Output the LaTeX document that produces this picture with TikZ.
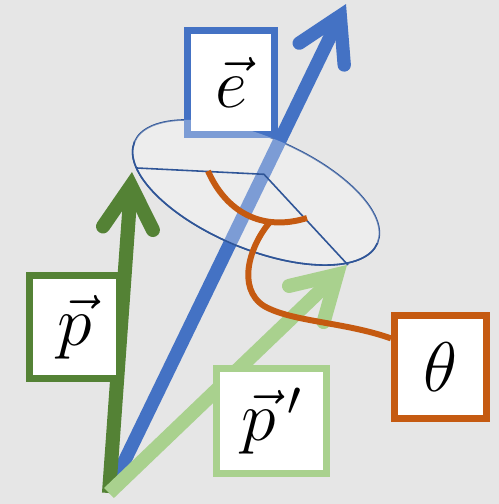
\RequirePackage{fix-cm}
\documentclass[tikz,border=0pt]{standalone}
\usetikzlibrary{arrows.meta}
\definecolor{Fond}{RGB}{230,230,230}
\definecolor{Bleu}{RGB}{68,114,196}
\definecolor{BleuFonce}{RGB}{47,85,151}
\definecolor{Vert}{RGB}{84,130,53}
\definecolor{VertClair}{RGB}{169,209,142}
\definecolor{Orange}{RGB}{197,90,17}
\tikzset{boite/.style={rectangle, draw, fill=white, line width=4pt,
  inner sep=0pt, font=\fontsize{40}{44}\selectfont}}
\tikzset{fleche/.style={-{Straight Barb[length=0.85cm, width=1cm,
  line cap=round, line join=miter]}, line width=7.6pt}}
\tikzset{trait/.style={draw=BleuFonce, line width=0.9pt}}
\tikzset{lien/.style={draw=Orange, line width=3.4pt}}

\begin{document}
\begin{tikzpicture}[x=0.02cm, y=-0.02cm]
\fill[Fond] (0,0) rectangle (499,504);
\useasboundingbox (0,0) rectangle (499,504);
\coordinate (orig) at (109,493);
\coordinate (centre) at (256,192.5);
\coordinate (axe) at (264,174.3);
\coordinate (bordp) at (137,168);
\coordinate (bordpp) at (348,265);
\coordinate (etip) at (346,4);
\coordinate (ptip) at (132,172);
\coordinate (pptip) at (347,265);
\coordinate (arcg) at (208,171);
\coordinate (arcd) at (307,218);
\coordinate (arcbas) at (270,222);
% cone autour de e
\draw[trait, rotate around={-22.6:(centre)}] (centre) ellipse [x radius=131.6, y radius=56.4];
\draw[fleche, Bleu] (orig) -- (etip);
\node[boite, draw=Bleu, minimum width=1.74cm, minimum height=2.08cm] (e) at (231,82.8) {$\vec{e}$};
\fill[white, opacity=0.3, rotate around={-22.6:(centre)}] (centre) ellipse [x radius=131.6, y radius=56.4];
\draw[trait, rotate around={-22.6:(centre)}] (387.6,192.5) arc [start angle=0, end angle=180, x radius=131.6, y radius=56.4];
\draw[trait] (bordp) -- (axe) -- (bordpp);
% impulsions
\draw[fleche, Vert, line width=8pt] (orig) -- (ptip);
\draw[fleche, VertClair, line width=8pt] (orig) -- (pptip);
% angle
\draw[lien] (arcg) .. controls (226,212) and (262,232) .. (arcd);
\node[boite, draw=Orange, minimum width=1.84cm, minimum height=2.06cm] (theta) at (440.5,367) {$\theta$};
\draw[lien] (arcbas) .. controls (250,245) and (236,288) .. (264,306) .. controls (292,322) and (345,322) .. (theta.150);
\node[boite, draw=Vert, minimum width=1.8cm, minimum height=2.06cm] (p) at (74.5,327) {$\vec{p}$};
\node[boite, draw=VertClair, minimum width=2.2cm, minimum height=2.1cm] (pp) at (271.5,421) {$\vec{p}\,{}'$};
\end{tikzpicture}
\end{document}
